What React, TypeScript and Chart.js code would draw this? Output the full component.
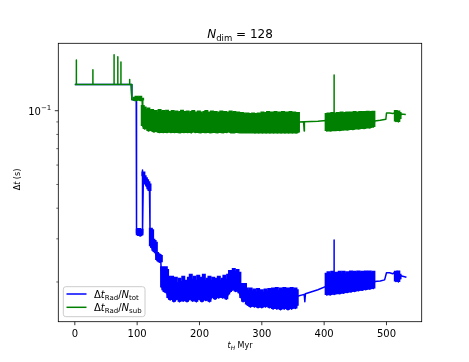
import React, { useEffect, useRef } from "react";
import { Chart, registerables } from "chart.js";

Chart.register(...registerables);

// ---------- axes ----------
const xTicks = [0, 100, 200, 300, 400, 500];
const yMajorTicks = [0.1];
const yMinorTicks = [0.02, 0.03, 0.04, 0.05, 0.06, 0.07, 0.08, 0.09];
const xLimits = [-26.5, 556.5];
const yLimits = [0.01377, 0.1884];

// ---------- series: Δt_Rad / N_tot (blue) ----------
const blueTime = [
  0, 90.5, 91.5, 98.5, 99, 101, 103, 105, 107, 108.6,
  110, 112, 114, 116, 118, 119.8, 120.6, 122, 124, 126,
  128, 130, 132, 134, 136, 138, 140, 142, 144, 146,
  148, 150, 153, 156, 159, 162, 165, 168, 171, 174,
  177, 180, 183, 186, 189, 192, 195, 198, 201, 204,
  207, 210, 213, 216, 219, 222, 225, 228, 231, 234,
  237, 240, 243, 246, 249, 252, 255, 258, 261, 264,
  267, 270, 273, 276, 279, 282, 285, 288, 291, 294,
  297, 300, 303, 306, 309, 312, 315, 318, 321, 324,
  327, 330, 333, 336, 339, 342, 345, 348, 351, 354,
  356, 357, 368, 369, 370, 390, 403, 404, 407, 410,
  413, 416, 419, 422, 425, 428, 431, 434, 437, 440,
  443, 446, 449, 452, 455, 458, 461, 464, 467, 470,
  473, 476, 479, 481, 490, 497, 500, 505, 510, 513,
  515, 517, 519, 521, 523, 532,
];
const blueHigh = [
  0.128, 0.128, 0.111, 0.110, 0.110, 0.0330, 0.0332, 0.0330, 0.0330, 0.0573,
  0.0565, 0.0545, 0.0535, 0.0525, 0.0515, 0.0505, 0.0470, 0.0333, 0.0328, 0.0300,
  0.0297, 0.0292, 0.0265, 0.0262, 0.0260, 0.0258, 0.0232, 0.0230, 0.0228, 0.0232,
  0.0226, 0.0212, 0.0208, 0.0212, 0.0204, 0.0210, 0.0200, 0.0208, 0.0202, 0.0212,
  0.0204, 0.0200, 0.0210, 0.0216, 0.0206, 0.0212, 0.0204, 0.0214, 0.0206, 0.0210,
  0.0216, 0.0204, 0.0208, 0.0212, 0.0204, 0.0210, 0.0202, 0.0208, 0.0212, 0.0204,
  0.0208, 0.0214, 0.0206, 0.0216, 0.0224, 0.0220, 0.0228, 0.0222, 0.0226, 0.0220,
  0.0198, 0.0194, 0.0198, 0.0190, 0.0186, 0.0190, 0.0185, 0.0188, 0.0183, 0.0189,
  0.0185, 0.0187, 0.0183, 0.0188, 0.0185, 0.0189, 0.0186, 0.0190, 0.0187, 0.0191,
  0.0186, 0.0190, 0.0188, 0.0191, 0.0186, 0.0190, 0.0187, 0.0191, 0.0188, 0.0190,
  0.0187, 0.0175, 0.0178, 0.0178, 0.0179, 0.0186, 0.0192, 0.0218, 0.0221, 0.0218,
  0.0222, 0.0297, 0.0220, 0.0218, 0.0222, 0.0219, 0.0222, 0.0218, 0.0221, 0.0219,
  0.0223, 0.0219, 0.0222, 0.0220, 0.0223, 0.0220, 0.0222, 0.0219, 0.0223, 0.0221,
  0.0223, 0.0220, 0.0222, 0.0201, 0.0202, 0.0204, 0.0218, 0.0218, 0.0216, 0.0219,
  0.0222, 0.0218, 0.0223, 0.0216, 0.0212, 0.0209,
];
const blueLow = [
  0.128, 0.128, 0.111, 0.110, 0.0317, 0.0310, 0.0310, 0.0308, 0.0310, 0.0317,
  0.0540, 0.0510, 0.0500, 0.0490, 0.0478, 0.0470, 0.0330, 0.0280, 0.0275, 0.0268,
  0.0265, 0.0262, 0.0246, 0.0243, 0.0241, 0.0241, 0.0190, 0.0185, 0.0182, 0.0185,
  0.0180, 0.0172, 0.0169, 0.0172, 0.0166, 0.0169, 0.0172, 0.0166, 0.0169, 0.0167,
  0.0172, 0.0166, 0.0169, 0.0172, 0.0167, 0.0170, 0.0166, 0.0172, 0.0169, 0.0166,
  0.0172, 0.0168, 0.0170, 0.0166, 0.0172, 0.0174, 0.0170, 0.0174, 0.0172, 0.0175,
  0.0172, 0.0174, 0.0170, 0.0178, 0.0182, 0.0185, 0.0187, 0.0183, 0.0185, 0.0180,
  0.0172, 0.0166, 0.0169, 0.0162, 0.0160, 0.0158, 0.0161, 0.0158, 0.0160, 0.0157,
  0.0160, 0.0157, 0.0160, 0.0158, 0.0161, 0.0157, 0.0158, 0.0155, 0.0158, 0.0155,
  0.0157, 0.0154, 0.0157, 0.0155, 0.0158, 0.0154, 0.0157, 0.0155, 0.0158, 0.0156,
  0.0160, 0.0175, 0.0178, 0.0166, 0.0179, 0.0186, 0.0192, 0.0177, 0.0178, 0.0177,
  0.0179, 0.0178, 0.0179, 0.0180, 0.0179, 0.0181, 0.0180, 0.0182, 0.0181, 0.0183,
  0.0182, 0.0184, 0.0183, 0.0185, 0.0184, 0.0186, 0.0185, 0.0187, 0.0186, 0.0188,
  0.0187, 0.0189, 0.0188, 0.0201, 0.0202, 0.0204, 0.0218, 0.0218, 0.0216, 0.0219,
  0.0201, 0.0204, 0.0200, 0.0205, 0.0212, 0.0209,
];

// ---------- series: Δt_Rad / N_sub (green) ----------
const greenTime = [
  0, 2, 3.5, 29, 63, 69, 74, 88, 90.5, 91.5,
  94, 96, 99, 102, 105, 108, 109, 112, 115, 118,
  121, 124, 127, 130, 133, 136, 139, 142, 145, 148,
  151, 154, 157, 160, 163, 166, 169, 172, 175, 178,
  181, 184, 187, 190, 193, 196, 199, 202, 205, 208,
  211, 214, 217, 220, 223, 226, 229, 232, 235, 238,
  241, 244, 247, 250, 253, 256, 259, 262, 265, 268,
  271, 274, 277, 280, 283, 286, 289, 292, 295, 298,
  301, 304, 307, 310, 313, 316, 319, 322, 325, 328,
  331, 334, 337, 340, 343, 346, 349, 352, 355, 358,
  359.5, 367, 368, 369, 390, 403, 404, 407, 410, 413,
  416, 419, 422, 425, 428, 431, 434, 437, 440, 443,
  446, 449, 452, 455, 458, 461, 464, 467, 470, 473,
  476, 479, 481, 490, 499, 500, 505, 510, 513, 515,
  517, 519, 521, 523, 531,
];
const greenHigh = [
  0.128, 0.161, 0.128, 0.147, 0.169, 0.166, 0.158, 0.134, 0.128, 0.111,
  0.111, 0.114, 0.115, 0.114, 0.115, 0.113, 0.1055, 0.1040, 0.1016, 0.1030,
  0.1007, 0.1016, 0.0997, 0.1007, 0.0988, 0.1016, 0.0997, 0.1007, 0.0988, 0.1010,
  0.0997, 0.0988, 0.1007, 0.0993, 0.1003, 0.0988, 0.0997, 0.1010, 0.0988, 0.0997,
  0.1003, 0.0984, 0.0997, 0.1007, 0.0993, 0.0988, 0.1003, 0.0993, 0.0984, 0.0997,
  0.1007, 0.0988, 0.0993, 0.1003, 0.0988, 0.0997, 0.0984, 0.0993, 0.1003, 0.0988,
  0.0997, 0.0984, 0.0993, 0.1003, 0.0988, 0.0997, 0.0984, 0.0993, 0.0979, 0.0988,
  0.0984, 0.0975, 0.0984, 0.0979, 0.0975, 0.0984, 0.0979, 0.0975, 0.0984, 0.0979,
  0.0993, 0.0984, 0.0988, 0.0997, 0.0984, 0.0993, 0.0988, 0.0997, 0.0984, 0.0993,
  0.0988, 0.0997, 0.0984, 0.0993, 0.0988, 0.0997, 0.0988, 0.0993, 0.0984, 0.0988,
  0.0899, 0.0901, 0.0901, 0.0902, 0.0906, 0.0912, 0.0979, 0.0984, 0.0979, 0.0988,
  0.140, 0.0984, 0.0988, 0.0984, 0.0993, 0.0984, 0.0988, 0.0993, 0.0984, 0.0993,
  0.0988, 0.0997, 0.0988, 0.0993, 0.0997, 0.0988, 0.0997, 0.0993, 0.1000, 0.0993,
  0.0997, 0.1000, 0.0908, 0.0914, 0.0923, 0.0979, 0.0979, 0.0975, 0.0979, 0.1007,
  0.0993, 0.1003, 0.0988, 0.0970, 0.0966,
];
const greenLow = [
  0.128, 0.128, 0.128, 0.128, 0.128, 0.128, 0.128, 0.128, 0.128, 0.111,
  0.111, 0.110, 0.110, 0.111, 0.110, 0.110, 0.0866, 0.0842, 0.0850, 0.0826,
  0.0834, 0.0826, 0.0819, 0.0826, 0.0819, 0.0815, 0.0819, 0.0815, 0.0819, 0.0815,
  0.0822, 0.0815, 0.0819, 0.0815, 0.0819, 0.0815, 0.0812, 0.0819, 0.0815, 0.0819,
  0.0815, 0.0819, 0.0812, 0.0830, 0.0815, 0.0819, 0.0815, 0.0812, 0.0819, 0.0815,
  0.0815, 0.0819, 0.0812, 0.0815, 0.0819, 0.0815, 0.0812, 0.0819, 0.0815, 0.0812,
  0.0819, 0.0815, 0.0830, 0.0812, 0.0815, 0.0812, 0.0819, 0.0815, 0.0812, 0.0815,
  0.0812, 0.0815, 0.0812, 0.0815, 0.0812, 0.0815, 0.0811, 0.0815, 0.0811, 0.0815,
  0.0811, 0.0815, 0.0811, 0.0815, 0.0811, 0.0815, 0.0811, 0.0815, 0.0811, 0.0815,
  0.0811, 0.0815, 0.0811, 0.0815, 0.0811, 0.0815, 0.0811, 0.0815, 0.0811, 0.0815,
  0.0899, 0.0901, 0.0826, 0.0902, 0.0906, 0.0912, 0.0826, 0.0830, 0.0826, 0.0830,
  0.0830, 0.0830, 0.0834, 0.0830, 0.0834, 0.0834, 0.0838, 0.0834, 0.0838, 0.0842,
  0.0838, 0.0842, 0.0846, 0.0842, 0.0846, 0.0850, 0.0846, 0.0850, 0.0854, 0.0850,
  0.0858, 0.0858, 0.0908, 0.0914, 0.0923, 0.0979, 0.0979, 0.0975, 0.0979, 0.0904,
  0.0918, 0.0900, 0.0925, 0.0970, 0.0966,
];

const BLUE = "#0000ff";
const GREEN = "#008000";
const FAMILY = '"DejaVu Sans"';

type Pt = { x: number; y: number };

// Splits a series into a thin line (jumps and isolated spikes) and dense oscillation bands
function splitSeries(t: number[], hi: number[], lo: number[]) {
  const n = Math.min(t.length, hi.length, lo.length);
  const inBand: boolean[] = new Array(n).fill(false);
  let i = 0;
  while (i < n) {
    if (hi[i] !== lo[i]) {
      let j = i;
      while (j + 1 < n && hi[j + 1] !== lo[j + 1] && t[j + 1] - t[j] <= 3.5) j++;
      if (j - i >= 2) for (let k = i; k <= j; k++) inBand[k] = true;
      i = j + 1;
    } else i++;
  }
  const line: Pt[] = [];
  const band: { x: number; y: [number, number] }[] = [];
  for (let k = 0; k < n; k++) {
    const thinJump = hi[k] / lo[k] > 1.4;
    if (inBand[k] && !thinJump) {
      line.push({ x: t[k], y: lo[k] });
      band.push({ x: t[k], y: [lo[k], hi[k]] });
    } else if (hi[k] === lo[k]) line.push({ x: t[k], y: hi[k] });
    else line.push({ x: t[k], y: lo[k] }, { x: t[k], y: hi[k] }, { x: t[k], y: lo[k] });
  }
  return { line, band };
}

type Run = { text: string; size: number; italic?: boolean; dy?: number };

function fontOf(r: Run) {
  return `${r.italic ? "italic " : ""}${r.size}px ${FAMILY}`;
}

function runsWidth(ctx: CanvasRenderingContext2D, runs: Run[]) {
  let w = 0;
  for (const r of runs) {
    ctx.font = fontOf(r);
    w += ctx.measureText(r.text).width;
  }
  return w;
}

function drawRuns(ctx: CanvasRenderingContext2D, runs: Run[], x: number, y: number, align: "left" | "center" | "right") {
  const w = runsWidth(ctx, runs);
  let cx = align === "left" ? x : align === "center" ? x - w / 2 : x - w;
  ctx.textAlign = "left";
  ctx.textBaseline = "alphabetic";
  for (const r of runs) {
    ctx.font = fontOf(r);
    ctx.fillText(r.text, cx, y + (r.dy || 0));
    cx += ctx.measureText(r.text).width;
  }
}

const decorPlugin = {
  id: "mplDecor",
  afterDraw(chart: any) {
    const ctx: CanvasRenderingContext2D = chart.ctx;
    const { left, right, top, bottom } = chart.chartArea;
    const xs = chart.scales.x;
    const ys = chart.scales.y;
    ctx.save();
    ctx.fillStyle = "#000";
    ctx.strokeStyle = "#000";
    ctx.lineWidth = 0.8;
    ctx.strokeRect(left, top, right - left, bottom - top);
    ctx.beginPath();
    for (const v of xTicks) {
      const px = xs.getPixelForValue(v);
      ctx.moveTo(px, bottom);
      ctx.lineTo(px, bottom + 3.5);
    }
    for (const v of yMajorTicks) {
      const py = ys.getPixelForValue(v);
      ctx.moveTo(left, py);
      ctx.lineTo(left - 3.5, py);
    }
    ctx.stroke();
    ctx.lineWidth = 0.6;
    ctx.beginPath();
    for (const v of yMinorTicks) {
      const py = ys.getPixelForValue(v);
      ctx.moveTo(left, py);
      ctx.lineTo(left - 2, py);
    }
    ctx.stroke();

    for (const v of xTicks) {
      const px = xs.getPixelForValue(v);
      drawRuns(ctx, [{ text: String(v), size: 10 }], px, bottom + 15.6, "center");
    }
    for (const v of yMajorTicks) {
      const py = ys.getPixelForValue(v);
      const exp = Math.round(Math.log10(v));
      drawRuns(
        ctx,
        [
          { text: "10", size: 10 },
          { text: (exp < 0 ? "\u2212" : "") + String(Math.abs(exp)), size: 7, dy: -5 },
        ],
        left - 7,
        py + 4.3,
        "right"
      );
    }

    drawRuns(
      ctx,
      [
        { text: "N", size: 12, italic: true },
        { text: "dim", size: 8.5, dy: 2.2 },
        { text: " = 128", size: 12 },
      ],
      (left + right) / 2,
      38.3,
      "center"
    );

    drawRuns(
      ctx,
      [
        { text: "t", size: 8, italic: true },
        { text: "H", size: 5.8, italic: true, dy: 1.5 },
        { text: " Myr", size: 8 },
      ],
      (left + right) / 2,
      348,
      "center"
    );

    ctx.save();
    ctx.translate(19.5, (top + bottom) / 2 - 3);
    ctx.rotate(-Math.PI / 2);
    drawRuns(
      ctx,
      [
        { text: "\u0394", size: 8 },
        { text: "t", size: 8, italic: true },
        { text: " (s)", size: 8 },
      ],
      0,
      0,
      "center"
    );
    ctx.restore();

    // legend
    const lx = 63.3, ly = 286.7, lw = 81.7, lh = 30;
    const r = 2.5;
    ctx.beginPath();
    ctx.moveTo(lx + r, ly);
    ctx.lineTo(lx + lw - r, ly);
    ctx.quadraticCurveTo(lx + lw, ly, lx + lw, ly + r);
    ctx.lineTo(lx + lw, ly + lh - r);
    ctx.quadraticCurveTo(lx + lw, ly + lh, lx + lw - r, ly + lh);
    ctx.lineTo(lx + r, ly + lh);
    ctx.quadraticCurveTo(lx, ly + lh, lx, ly + lh - r);
    ctx.lineTo(lx, ly + r);
    ctx.quadraticCurveTo(lx, ly, lx + r, ly);
    ctx.closePath();
    ctx.fillStyle = "rgba(255,255,255,0.8)";
    ctx.fill();
    ctx.strokeStyle = "#cccccc";
    ctx.lineWidth = 1;
    ctx.stroke();

    const entries = [
      { color: BLUE, sub: "tot", y: 294 },
      { color: GREEN, sub: "sub", y: 307.3 },
    ];
    for (const e of entries) {
      ctx.strokeStyle = e.color;
      ctx.lineWidth = 1.5;
      ctx.beginPath();
      ctx.moveTo(66.5, e.y);
      ctx.lineTo(86.5, e.y);
      ctx.stroke();
      ctx.fillStyle = "#000";
      drawRuns(
        ctx,
        [
          { text: "\u0394", size: 10 },
          { text: "t", size: 10, italic: true },
          { text: "Rad", size: 7, dy: 2 },
          { text: "/", size: 10 },
          { text: "N", size: 10, italic: true },
          { text: e.sub, size: 7, dy: 2 },
        ],
        94,
        e.y + 4,
        "left"
      );
    }
    ctx.restore();
  },
};

function makeDatasets(t: number[], hi: number[], lo: number[], color: string, order: number, label: string) {
  const { line, band } = splitSeries(t, hi, lo);
  return [
    {
      type: "line",
      label,
      data: line,
      borderColor: color,
      backgroundColor: color,
      borderWidth: 1.5,
      pointRadius: 0,
      tension: 0,
      borderJoinStyle: "round",
      fill: false,
      order,
    },
    {
      type: "bar",
      label: label + " (band)",
      data: band,
      backgroundColor: color,
      borderColor: color,
      borderWidth: 0,
      barThickness: 4,
      maxBarThickness: 4,
      grouped: false,
      borderSkipped: false,
      inflateAmount: 0,
      order,
    },
  ];
}

export default function App() {
  const canvasRef = useRef<HTMLCanvasElement | null>(null);

  useEffect(() => {
    const canvas = canvasRef.current;
    if (!canvas) return;
    const chart = new Chart(canvas, {
      type: "line",
      data: {
        datasets: [
          ...makeDatasets(blueTime, blueHigh, blueLow, BLUE, 2, "Δt_Rad/N_tot"),
          ...makeDatasets(greenTime, greenHigh, greenLow, GREEN, 1, "Δt_Rad/N_sub"),
        ],
      },
      options: {
        animation: false,
        responsive: false,
        devicePixelRatio: 1,
        events: [],
        layout: { padding: { left: 58.3, right: 47.3, top: 43.3, bottom: 40.3 } },
        plugins: {
          legend: { display: false },
          title: { display: false },
          tooltip: { enabled: false },
        },
        scales: {
          x: { type: "linear", min: xLimits[0], max: xLimits[1], display: false, offset: false },
          y: { type: "logarithmic", min: yLimits[0], max: yLimits[1], display: false },
        },
      },
      plugins: [decorPlugin],
    } as any);
    return () => chart.destroy();
  }, []);

  return (
    <div style={{ position: "absolute", left: 0, top: 0, width: 469, height: 362, background: "#fff" }}>
      <canvas ref={canvasRef} width={469} height={362} style={{ display: "block", width: 469, height: 362 }} />
    </div>
  );
}
